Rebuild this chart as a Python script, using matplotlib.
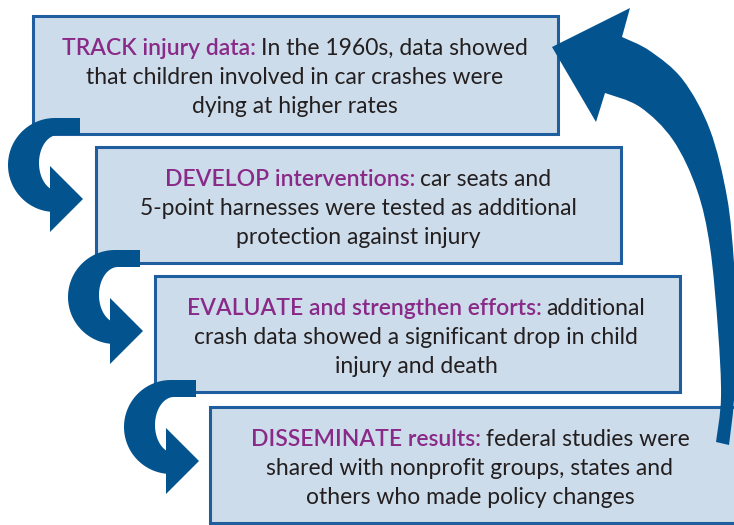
import numpy as np
import matplotlib
matplotlib.use("Agg")
import matplotlib.pyplot as plt
from matplotlib.patches import Rectangle, Polygon, PathPatch
from matplotlib.path import Path

plt.rcParams['font.family'] = ['Lato', 'DejaVu Sans']

BOX_FILL = '#cddcea'
BOX_EDGE = '#1f5e9e'
ARROW = '#03538f'
PURPLE = '#8a2a88'
INK = '#231f20'

# box text
steps = ["TRACK injury data:", "DEVELOP interventions:",
         "EVALUATE and strengthen efforts:", "DISSEMINATE results:"]
first_rest = ["In the 1960s, data showed", "car seats and",
              "additional", "federal studies were"]
more_lines = [
    ["that children involved in car crashes were", "dying at higher rates"],
    ["5-point harnesses were tested as additional", "protection against injury"],
    ["crash data showed a significant drop in child", "injury and death"],
    ["shared with nonprofit groups, states and", "others who made policy changes"],
]

# box layout (pixels, y down)
box_left = [33, 96, 155, 210]
box_top = [16, 147, 276, 407]
box_right = [558, 621, 680, 750]
box_bottom = [134, 263, 392, 523]
text_cx = [295, 358, 416, 470]

# small curved arrows (centres)
c_arrow_centres = [(55, 165), (115, 297), (171, 427)]

# big return arrow
big_tip = (552, 47)
big_head_top = [(630, 8), (622, 37)]
big_head_low = [(605, 93), (596, 122)]
big_outer = [(622, 37), (650, 51), (683, 80), (710, 130), (727, 197),
             (734, 263), (737, 330), (734, 400), (729, 445)]
big_inner = [(605, 93), (640, 107), (673, 140), (697, 190), (710, 247),
             (718, 330), (721, 397), (716, 442)]

FS = 16.5
LINE_GAP = 29
BASE_OFF = 39


def smooth(pts):
    # catmull-rom -> bezier segments
    p = np.array(pts, float)
    ext = np.vstack([p[0], p, p[-1]])
    verts, codes = [], []
    for i in range(len(p) - 1):
        p0, p1, p2, p3 = ext[i], ext[i + 1], ext[i + 2], ext[i + 3]
        verts += [p1 + (p2 - p0) / 6, p2 - (p3 - p1) / 6, p2]
        codes += [Path.CURVE4] * 3
    return verts, codes


def c_arrow(ax, cx, cy):
    t = np.linspace(0, np.pi, 80)
    outer = np.column_stack([cx - 47 * np.sin(t), cy - 47 * np.cos(t)])
    inner = np.column_stack([cx + 3 - 19 * np.sin(t), cy - 2 - 28 * np.cos(t)])
    band = np.vstack([[cx + 25, cy - 47], outer, inner[::-1], [cx + 25, cy - 30]])
    ax.add_patch(Polygon(band, closed=True, fc=ARROW, ec='none', zorder=5))
    head = [(cx - 5, cy + 1), (cx + 28, cy + 34), (cx - 5, cy + 67)]
    ax.add_patch(Polygon(head, closed=True, fc=ARROW, ec='none', zorder=5))


fig = plt.figure(figsize=(7.34, 5.25), dpi=100)
ax = fig.add_axes([0, 0, 1, 1])
ax.set_xlim(0, 734)
ax.set_ylim(525, 0)
ax.axis('off')

renderer = fig.canvas.get_renderer()
space = FS * 100 / 72 * 0.22

for i in range(4):
    ax.add_patch(Rectangle((box_left[i], box_top[i]),
                           box_right[i] - box_left[i], box_bottom[i] - box_top[i],
                           fc=BOX_FILL, ec=BOX_EDGE, lw=2.2, zorder=1))
    y0 = box_top[i] + BASE_OFF
    t1 = ax.text(0, y0, steps[i], color=PURPLE, fontsize=FS, weight='semibold',
                 va='baseline', ha='left', zorder=3)
    t2 = ax.text(0, y0, first_rest[i], color=INK, fontsize=FS,
                 va='baseline', ha='left', zorder=3)
    w1 = t1.get_window_extent(renderer).width
    w2 = t2.get_window_extent(renderer).width
    x0 = text_cx[i] - (w1 + space + w2) / 2
    t1.set_x(x0)
    t2.set_x(x0 + w1 + space)
    for k, line in enumerate(more_lines[i]):
        ax.text(text_cx[i], y0 + LINE_GAP * (k + 1), line, color=INK, fontsize=FS,
                va='baseline', ha='center', zorder=3)

for cx, cy in c_arrow_centres:
    c_arrow(ax, cx, cy)

verts = [big_tip, big_head_top[0], big_head_top[1]]
codes = [Path.MOVETO, Path.LINETO, Path.LINETO]
v, c = smooth(big_outer)
verts += v
codes += c
verts.append(big_inner[-1])
codes.append(Path.LINETO)
v, c = smooth(big_inner[::-1])
verts += v
codes += c
verts += [big_head_low[1], big_tip]
codes += [Path.LINETO, Path.CLOSEPOLY]
ax.add_patch(PathPatch(Path(verts, codes), fc=ARROW, ec='none', zorder=5))

fig.savefig('out.png', dpi=100)
